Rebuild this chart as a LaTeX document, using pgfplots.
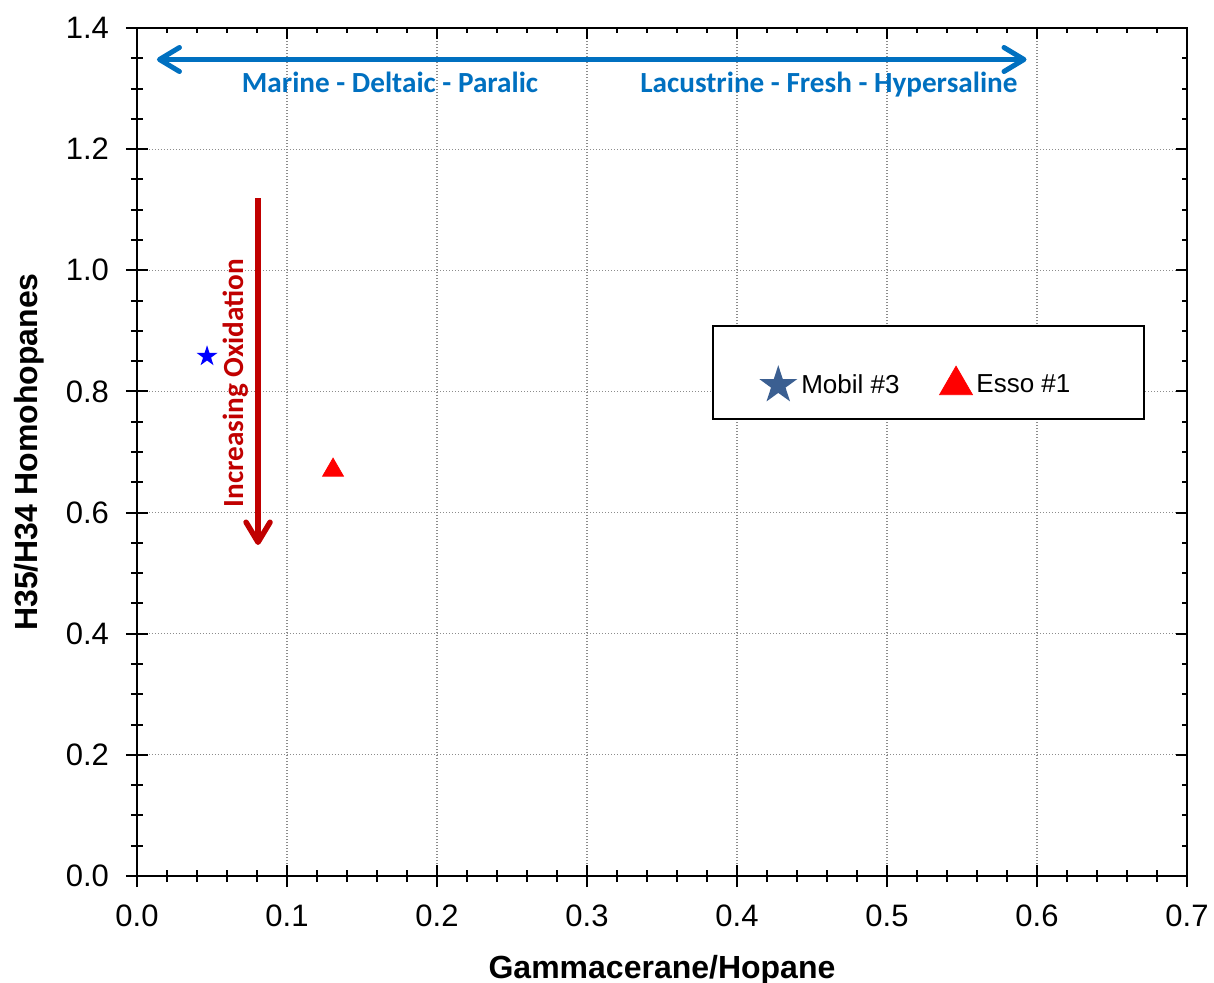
\documentclass[border=0pt]{standalone}
\usepackage{fontspec}
\setmainfont{Liberation Sans}
\newfontfamily\calfont{Carlito}
\usepackage{pgfplots}
\pgfplotsset{compat=1.18}
\usetikzlibrary{arrows.meta}
\definecolor{annblue}{RGB}{0,112,192}
\definecolor{annred}{RGB}{192,0,0}
\definecolor{legblue}{RGB}{59,95,145}
\pgfdeclareplotmark{fstar}{%
  \pgfpathmoveto{\pgfpointpolar{90}{\pgfplotmarksize}}%
  \pgfpathlineto{\pgfpointpolar{126}{0.382\pgfplotmarksize}}%
  \pgfpathlineto{\pgfpointpolar{162}{\pgfplotmarksize}}%
  \pgfpathlineto{\pgfpointpolar{198}{0.382\pgfplotmarksize}}%
  \pgfpathlineto{\pgfpointpolar{234}{\pgfplotmarksize}}%
  \pgfpathlineto{\pgfpointpolar{270}{0.382\pgfplotmarksize}}%
  \pgfpathlineto{\pgfpointpolar{306}{\pgfplotmarksize}}%
  \pgfpathlineto{\pgfpointpolar{342}{0.382\pgfplotmarksize}}%
  \pgfpathlineto{\pgfpointpolar{18}{\pgfplotmarksize}}%
  \pgfpathlineto{\pgfpointpolar{54}{0.382\pgfplotmarksize}}%
  \pgfpathclose
  \pgfusepathqfill
}
\pgfplotsset{
  base/.style={
    at={(0,0)}, anchor=south west, scale only axis,
    width=525pt, height=424pt,
    xmin=0, xmax=0.7, ymin=0, ymax=1.4,
    xtick={0,0.1,0.2,0.3,0.4,0.5,0.6,0.7},
    ytick={0,0.2,0.4,0.6,0.8,1.0,1.2,1.4},
    minor x tick num=4, minor y tick num=3,
    axis line style={line width=1pt, black},
    tick style={line width=1pt, black},
  }
}
\begin{document}
\begin{tikzpicture}
\useasboundingbox (-68.5pt,-53pt) rectangle (538.5pt,438pt);
\begin{axis}[base,
  xtick pos=left, ytick pos=left,
  tick align=center,
  major tick length=11pt, minor tick length=6pt,
  grid=major,
  grid style={line width=0.55pt, gray!90, dash pattern=on 0.6pt off 0.9pt},
  tick label style={font=\fontsize{15.5}{18}\selectfont},
  xticklabel shift=5.5pt, yticklabel shift=5pt,
  /pgf/number format/assume math mode=true,
  xticklabel style={/pgf/number format/.cd, fixed, fixed zerofill, precision=1},
  yticklabel style={/pgf/number format/.cd, fixed, fixed zerofill, precision=1},
  xlabel={Gammacerane/Hopane},
  ylabel={H35/H34 Homohopanes},
  label style={font=\fontsize{16}{19}\selectfont\bfseries},
  xlabel style={at={(axis description cs:0.5,-0.1203)}, anchor=base},
  ylabel style={at={(axis description cs:-0.0943,0.5)}, anchor=base},
  legend columns=2,
  legend style={at={(rel axis cs:0.7427,0.581)}, anchor=center, draw=none, fill=none,
    font=\fontsize{13}{15}\selectfont,
    /tikz/every even column/.append style={column sep=18pt}},
  legend image code/.code={\draw[mark repeat=2,mark phase=2,#1] plot coordinates {(0cm,0cm) (0.35cm,0cm) (0.7cm,0cm)};},
]
\addplot[only marks, mark=fstar, mark size=5.5pt, color=blue, forget plot] coordinates {(0.0467,0.858)};
\addplot[only marks, mark=triangle*, mark size=6pt, color=red, forget plot] coordinates {(0.1307,0.670)};
\draw[line width=1pt, fill=white] (axis cs:0.384,0.7545) rectangle (axis cs:0.671,0.908);
\addlegendimage{only marks, mark=fstar, mark size=10pt, color=legblue}
\addlegendentry{Mobil \#3}
\addlegendimage{only marks, mark=triangle*, mark size=9.5pt, color=red}
\addlegendentry{Esso \#1}
\draw[annblue, line width=2.5pt, {Straight Barb[length=10pt,width=12pt,round]}-{Straight Barb[length=10pt,width=12pt,round]}]
  (axis cs:0.0133,1.348) -- (axis cs:0.593,1.348);
\draw[annred, line width=2.75pt, -{Straight Barb[length=10pt,width=12pt,round]}]
  (axis cs:0.0807,1.119) -- (axis cs:0.0807,0.5465);
\node[anchor=base, text=annblue, font=\fontsize{14.6}{17}\calfont\bfseries] at (axis cs:0.1687,1.2927) {Marine - Deltaic - Paralic};
\node[anchor=base, text=annblue, font=\fontsize{14.6}{17}\calfont\bfseries] at (axis cs:0.4613,1.2927) {Lacustrine - Fresh - Hypersaline};
\node[anchor=base, rotate=90, text=annred, font=\fontsize{14.6}{17}\calfont\bfseries] at (axis cs:0.0707,0.814) {Increasing Oxidation};
\end{axis}
\begin{axis}[base,
  xtick pos=right, ytick pos=right,
  tick align=inside,
  major tick length=5.5pt, minor tick length=2.75pt,
  xticklabels={}, yticklabels={},
]
\addplot[draw=none] coordinates {(0,0)};
\end{axis}
\end{tikzpicture}
\end{document}
